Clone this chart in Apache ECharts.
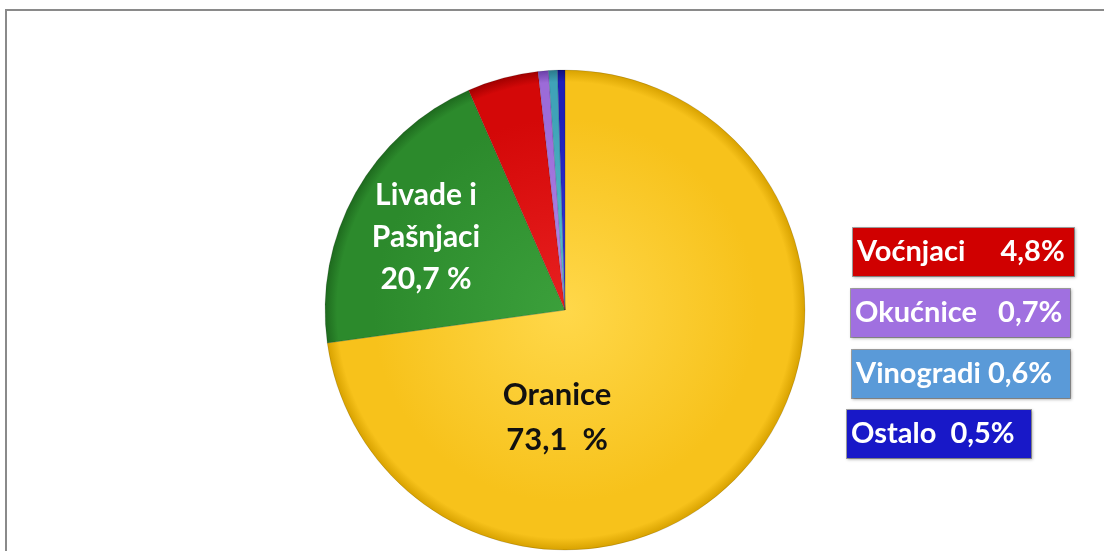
<!DOCTYPE html>
<html>
<head>
<meta charset="utf-8">
<script src="https://cdn.jsdelivr.net/npm/echarts@6/dist/echarts.min.js"></script>
<style>
  html, body { margin: 0; padding: 0; background: #fff; }
  #chart { width: 1104px; height: 551px; }
</style>
</head>
<body>
<div id="chart"></div>
<script>
// podaci
const categories = ['Oranice', 'Livade i Pašnjaci', 'Voćnjaci', 'Okućnice', 'Vinogradi', 'Ostalo'];
const values = [73.1, 20.7, 4.8, 0.7, 0.6, 0.5];
const labelTexts = ['Oranice\n73,1  %', 'Livade i\nPašnjaci\n20,7 %', 'Voćnjaci     4,8%', 'Okućnice   0,7%', 'Vinogradi 0,6%', 'Ostalo  0,5%'];

const chart = echarts.init(document.getElementById('chart'));

const cx = 565, cy = 310, r = 240;
const baseColors = ['#F7C21B', '#2C8A2C', '#D40808', '#9C6BD8', '#3FA3B8', '#2020B8'];
const darkColors = ['#D8A200', '#1E6A1E', '#A00000', '#6A40A8', '#2A7A8C', '#10107A'];
const lightColors = ['#FFD84A', '#3BA03B', '#E82020', '#B08AE8', '#60C0D0', '#3A3AD8'];

// kutije za male kategorije
const boxColors = ['#D00000', '#A070E0', '#5A9AD8', '#1818C8'];
const boxPos = [[853, 228, 221], [851, 289, 219], [852, 350, 218], [847, 410, 184]];

const data = values.map(function (v, i) {
    const color = new echarts.graphic.RadialGradient(cx, cy, r, [
        {offset: 0, color: lightColors[i]},
        {offset: 0.8, color: baseColors[i]},
        {offset: 0.95, color: baseColors[i]},
        {offset: 1, color: darkColors[i]}
    ], true);
    let label;
    if (i === 0) {
        label = {show: true, position: 'inside', color: '#111', fontSize: 31, lineHeight: 45,
            fontWeight: 'bold', fontFamily: 'Lato'};
    } else if (i === 1) {
        label = {show: true, position: 'inside', color: '#fff', fontSize: 30, lineHeight: 42,
            fontWeight: 'bold', fontFamily: 'Lato'};
    } else {
        const b = boxPos[i - 2];
        label = {show: true, position: 'outside', color: '#fff', fontSize: 29, fontWeight: 'bold',
            fontFamily: 'Lato', backgroundColor: boxColors[i - 2], width: b[2] - 8, height: 44,
            lineHeight: 44, padding: [2, 4, 2, 4], align: 'left', overflow: 'none',
            borderColor: 'rgba(0,0,0,0.35)', borderWidth: 1,
            shadowColor: 'rgba(0,0,0,0.3)', shadowBlur: 3, shadowOffsetX: 1, shadowOffsetY: 1};
    }
    return {
        name: categories[i],
        value: v,
        itemStyle: {color: color},
        label: label,
        labelLine: {show: false}
    };
});

const option = {
    animation: false,
    graphic: [{
        type: 'polyline',
        shape: {points: [[6, 560], [6, 10], [1110, 10]]},
        style: {stroke: '#8a8a8a', lineWidth: 2, fill: null}
    }],
    series: [{
        type: 'pie',
        center: [cx, cy],
        radius: r,
        startAngle: 90,
        clockwise: true,
        avoidLabelOverlap: false,
        itemStyle: {borderColor: 'rgba(0,0,0,0.25)', borderWidth: 0.5},
        emphasis: {disabled: true},
        label: {
            formatter: function (p) { return labelTexts[p.dataIndex]; }
        },
        labelLayout: function (p) {
            const i = p.dataIndex;
            if (i === 0) return {x: 557, y: 417, align: 'center', verticalAlign: 'middle'};
            if (i === 1) return {x: 426, y: 237, align: 'center', verticalAlign: 'middle'};
            const b = boxPos[i - 2];
            return {x: b[0], y: b[1], align: 'left', verticalAlign: 'top'};
        },
        data: data
    }]
};

chart.setOption(option);
</script>
</body>
</html>
